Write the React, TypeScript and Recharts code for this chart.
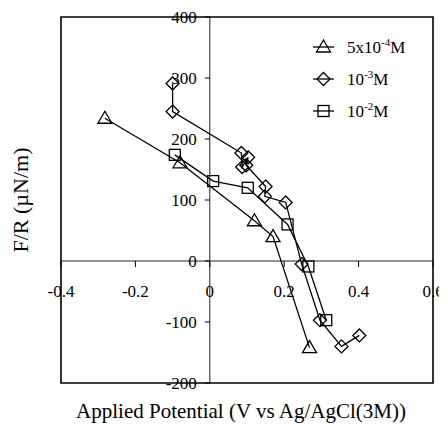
import React from "react";
import {
  ScatterChart,
  Scatter,
  XAxis,
  YAxis,
  ReferenceLine,
  ReferenceArea,
  Legend,
} from "recharts";

// Surface pressure vs applied potential, three concentrations.
// Values.

const triX = [-0.282, -0.08, 0.12, 0.17, 0.268];
const triY = [234, 161, 66, 40, -142];

const diaX = [-0.1, -0.1, 0.085, 0.087, 0.103, 0.098, 0.15, 0.148, 0.204, 0.247, 0.296, 0.354, 0.402];
const diaY = [291, 245, 177, 154, 170, 157, 122, 106, 96, -5, -97, -140, -122];

const sqX = [-0.094, 0.009, 0.102, 0.209, 0.265, 0.313];
const sqY = [174, 131, 120, 60, -9, -97];

const xTicks = [-0.4, -0.2, 0, 0.2, 0.4, 0.6];
const yTicks = [-200, -100, 0, 100, 200, 300, 400];

const X_MIN = -0.4;
const X_MAX = 0.6;
const Y_MIN = -200;
const Y_MAX = 400;

const W = 439;
const H = 416;
const Y_AXIS_W = 53;
const X_AXIS_H = 41;
const MARGIN = { top: 9, right: 14, bottom: 0, left: 0 };

const plotW = W - Y_AXIS_W - MARGIN.right;
const plotH = H - X_AXIS_H - MARGIN.top;
// where the value-zero lines sit, the axes cross there in the figure
const zeroX = Y_AXIS_W + (plotW * (0 - X_MIN)) / (X_MAX - X_MIN);
const zeroY = MARGIN.top + (plotH * (Y_MAX - 0)) / (Y_MAX - Y_MIN);

const FONT = '"Liberation Serif", "Times New Roman", Times, serif';
const INK = "#000";
const serif = { fontFamily: FONT };

const zip = (xs: number[], ys: number[]) => xs.map((x, i) => ({ x, y: ys[i] }));

const triData = zip(triX, triY);
const diaData = zip(diaX, diaY);
const sqData = zip(sqX, sqY);

function Triangle({ cx, cy }: any) {
  const h = 12;
  const w = 14;
  return (
    <path
      d={`M${cx},${cy - h / 2 - 1}L${cx + w / 2},${cy + h / 2 - 1}L${cx - w / 2},${cy + h / 2 - 1}Z`}
      fill="none"
      stroke={INK}
      strokeWidth={1.3}
    />
  );
}

function Diamond({ cx, cy }: any) {
  const r = 6.5;
  return (
    <path
      d={`M${cx},${cy - r}L${cx + r},${cy}L${cx},${cy + r}L${cx - r},${cy}Z`}
      fill="none"
      stroke={INK}
      strokeWidth={1.3}
    />
  );
}

function Square({ cx, cy }: any) {
  const s = 11;
  return (
    <rect x={cx - s / 2} y={cy - s / 2} width={s} height={s} fill="none" stroke={INK} strokeWidth={1.3} />
  );
}

const series = [
  { key: "tri", base: "5x10", sup: "-4", data: triData, Marker: Triangle },
  { key: "dia", base: "10", sup: "-3", data: diaData, Marker: Diamond },
  { key: "sq", base: "10", sup: "-2", data: sqData, Marker: Square },
];

function XTick({ x, payload }: any) {
  return (
    <g>
      <line x1={x} x2={x} y1={zeroY} y2={zeroY + 6} stroke={INK} strokeWidth={1} />
      <text x={x} y={zeroY + 36} textAnchor="middle" style={serif} fontSize={17} fill={INK}>
        {String(payload.value)}
      </text>
    </g>
  );
}

function YTick({ y, payload }: any) {
  return (
    <g>
      <line x1={zeroX - 5} x2={zeroX} y1={y} y2={y} stroke={INK} strokeWidth={1} />
      <text x={zeroX - 13} y={y} dy="0.35em" textAnchor="end" style={serif} fontSize={17} fill={INK}>
        {String(payload.value)}
      </text>
    </g>
  );
}

function LegendBox() {
  return (
    <svg width={130} height={96} style={{ display: "block", ...serif }}>
      {series.map((s, i) => {
        const cy = 17 + i * 32;
        const M = s.Marker;
        return (
          <g key={s.key}>
            <line x1={8} x2={29} y1={cy} y2={cy} stroke={INK} strokeWidth={1.3} />
            <M cx={18.5} cy={cy} />
            <text x={42} y={cy} dy="0.35em" style={serif} fontSize={17} fill={INK}>
              {s.base}
              <tspan dy={-7} fontSize={11}>
                {s.sup}
              </tspan>
              <tspan dy={7}>M</tspan>
            </text>
          </g>
        );
      })}
    </svg>
  );
}

export default function App() {
  return (
    <div style={{ width: W, height: H, position: "relative", ...serif }}>
      <ScatterChart width={W} height={H} margin={MARGIN} style={serif}>
        <ReferenceArea
          x1={X_MIN}
          x2={X_MAX}
          y1={Y_MIN}
          y2={Y_MAX}
          fill="none"
          stroke={INK}
          strokeWidth={1.6}
          fillOpacity={0}
          ifOverflow="visible"
        />
        <ReferenceLine x={0} stroke="#222" strokeWidth={1} />
        <ReferenceLine y={0} stroke="#222" strokeWidth={1} />
        <XAxis
          type="number"
          dataKey="x"
          domain={[X_MIN, X_MAX]}
          ticks={xTicks}
          height={X_AXIS_H}
          axisLine={false}
          tickLine={false}
          tick={<XTick />}
          interval={0}
          allowDataOverflow
          label={{
            value: "Applied Potential (V vs Ag/AgCl(3M))",
            position: "insideBottom",
            offset: 6,
            dx: -6,
            fontSize: 21,
            fill: INK,
            style: serif,
          }}
        />
        <YAxis
          type="number"
          dataKey="y"
          domain={[Y_MIN, Y_MAX]}
          ticks={yTicks}
          width={Y_AXIS_W}
          axisLine={false}
          tickLine={false}
          tick={<YTick />}
          interval={0}
          allowDataOverflow
          label={{
            value: "F/R (µN/m)",
            angle: -90,
            position: "insideLeft",
            offset: 12,
            fontSize: 22,
            fill: INK,
            style: { ...serif, textAnchor: "middle" },
          }}
        />
        {series.map((s) => (
          <Scatter
            key={s.key}
            name={s.key}
            data={s.data}
            line={{ stroke: INK, strokeWidth: 1.3 }}
            lineType="joint"
            shape={(p: any) => <s.Marker cx={p.cx} cy={p.cy} />}
            isAnimationActive={false}
          />
        ))}
        <Legend
          layout="vertical"
          align="center"
          verticalAlign="middle"
          content={() => <LegendBox />}
          wrapperStyle={{ left: 297, top: 22, width: 130, height: 96 }}
        />
      </ScatterChart>
    </div>
  );
}
